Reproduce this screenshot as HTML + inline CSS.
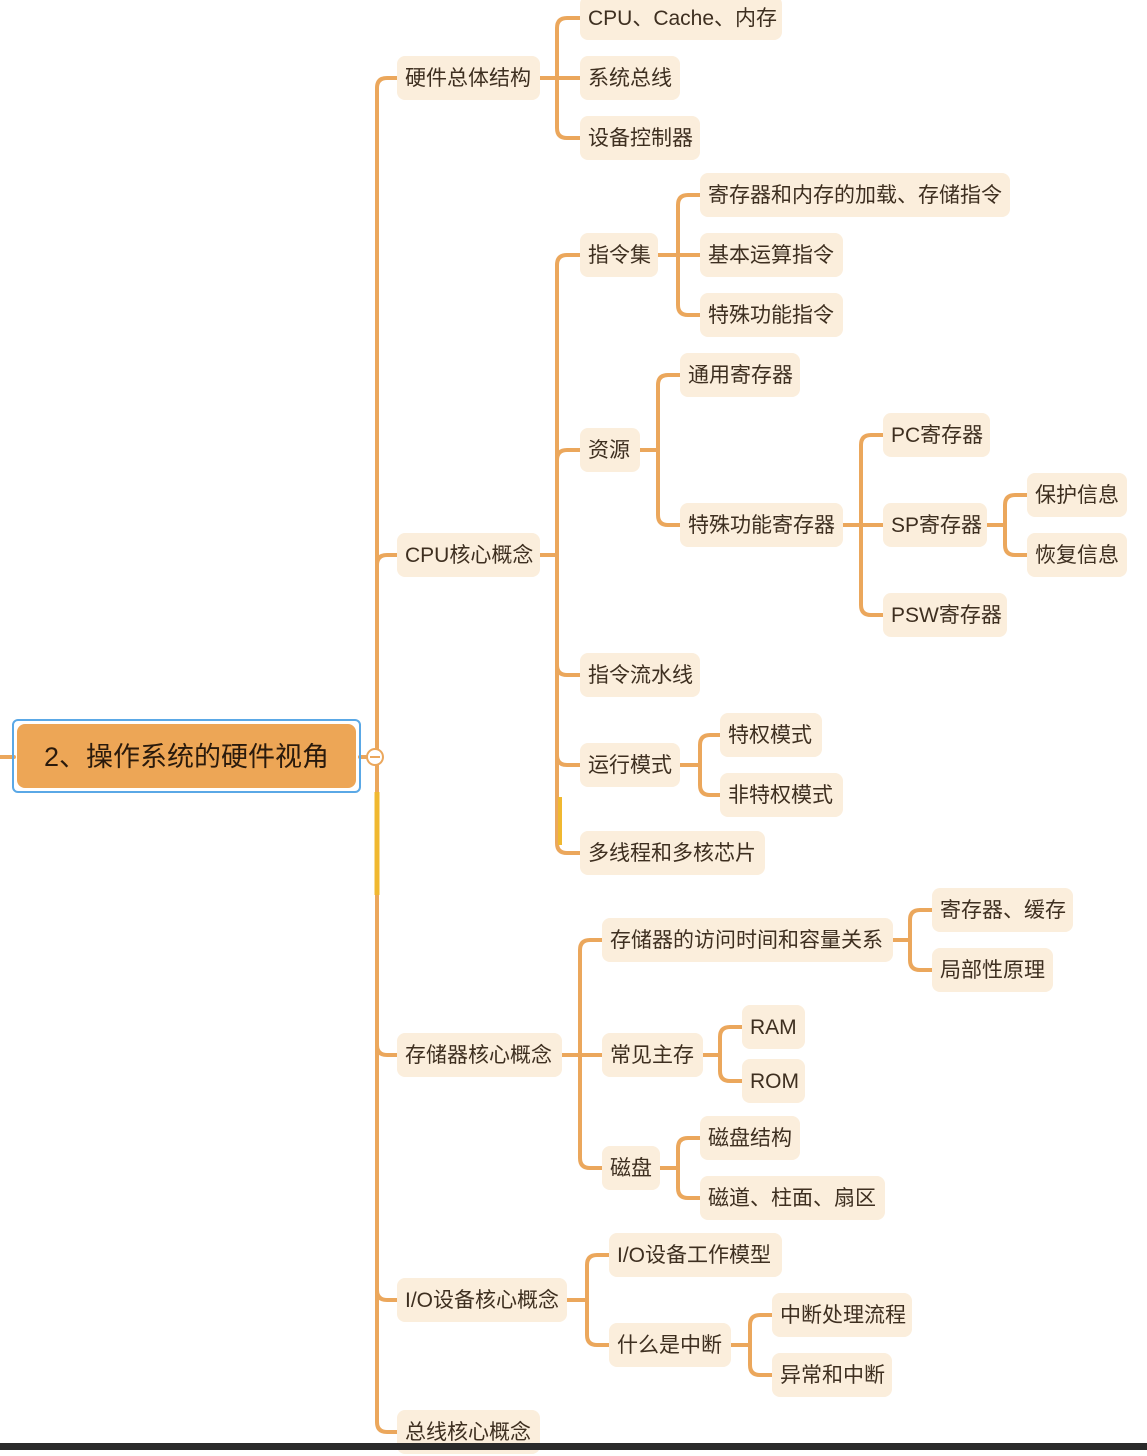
<!DOCTYPE html>
<html><head><meta charset="utf-8"><style>
body{margin:0;width:1147px;height:1450px;background:#fff;position:relative;overflow:hidden;font-family:"Liberation Sans","Noto Sans CJK SC",sans-serif;}
.n{position:absolute;height:44px;line-height:46px;background:#fbeedc;border-radius:8px;color:#3e2f20;font-size:21px;padding-left:8px;box-sizing:border-box;white-space:nowrap;}
svg{position:absolute;left:0;top:0}
</style></head><body>
<svg width="1147" height="1450"><g fill="none" stroke="#eba75c" stroke-width="4" stroke-linecap="round">
<path d="M0 757H14"/>
<path d="M360 757H377M377 757V88Q377 78 387 78H397M377 757V565Q377 555 387 555H397M377 757V1045Q377 1055 387 1055H397M377 757V1290Q377 1300 387 1300H397M377 757V1422Q377 1432 387 1432H397"/>
<path d="M540 78H557M557 78V28Q557 18 567 18H580M557 78H580M557 78V128Q557 138 567 138H580"/>
<path d="M540 555H557M557 555V265Q557 255 567 255H580M557 555V460Q557 450 567 450H580M557 555V665Q557 675 567 675H580M557 555V755Q557 765 567 765H580M557 555V843Q557 853 567 853H580"/>
<path d="M658 255H678M678 255V205Q678 195 688 195H700M678 255H700M678 255V305Q678 315 688 315H700"/>
<path d="M640 450H658M658 450V385Q658 375 668 375H680M658 450V515Q658 525 668 525H680"/>
<path d="M843 525H861M861 525V445Q861 435 871 435H883M861 525H883M861 525V605Q861 615 871 615H883"/>
<path d="M987 525H1005M1005 525V505Q1005 495 1015 495H1027M1005 525V545Q1005 555 1015 555H1027"/>
<path d="M680 765H700M700 765V745Q700 735 710 735H720M700 765V785Q700 795 710 795H720"/>
<path d="M562 1055H580M580 1055V950Q580 940 590 940H602M580 1055H602M580 1055V1158Q580 1168 590 1168H602"/>
<path d="M893 940H910M910 940V920Q910 910 920 910H932M910 940V960Q910 970 920 970H932"/>
<path d="M703 1055H720M720 1055V1037Q720 1027 730 1027H742M720 1055V1071Q720 1081 730 1081H742"/>
<path d="M660 1168H678M678 1168V1148Q678 1138 688 1138H700M678 1168V1188Q678 1198 688 1198H700"/>
<path d="M567 1300H587M587 1300V1265Q587 1255 597 1255H609M587 1300V1335Q587 1345 597 1345H609"/>
<path d="M731 1345H750M750 1345V1325Q750 1315 760 1315H772M750 1345V1365Q750 1375 760 1375H772"/>
</g>
<line x1="377" y1="792" x2="377" y2="895" stroke="#f0b830" stroke-width="5"/>
<line x1="560" y1="797" x2="560" y2="845" stroke="#f0b830" stroke-width="4"/>
<circle cx="375" cy="757" r="8" fill="#fff" stroke="#eba75c" stroke-width="2"/>
<line x1="370" y1="757" x2="380" y2="757" stroke="#eba75c" stroke-width="2"/>
</svg>
<div style="position:absolute;left:12px;top:719px;width:349px;height:74px;border:2px solid #5aa8e6;border-radius:6px;box-sizing:border-box;"></div>
<div style="position:absolute;left:17px;top:724px;width:339px;height:64px;background:#eda656;border-radius:8px;font-size:27px;line-height:66px;text-align:center;color:#2a1a0c;">2、操作系统的硬件视角</div>
<div class="n" style="left:397px;top:56px;width:143px">硬件总体结构</div>
<div class="n" style="left:397px;top:533px;width:143px">CPU核心概念</div>
<div class="n" style="left:397px;top:1033px;width:165px">存储器核心概念</div>
<div class="n" style="left:397px;top:1278px;width:170px">I/O设备核心概念</div>
<div class="n" style="left:397px;top:1410px;width:143px">总线核心概念</div>
<div class="n" style="left:580px;top:-4px;width:202px">CPU、Cache、内存</div>
<div class="n" style="left:580px;top:56px;width:100px">系统总线</div>
<div class="n" style="left:580px;top:116px;width:120px">设备控制器</div>
<div class="n" style="left:580px;top:233px;width:78px">指令集</div>
<div class="n" style="left:580px;top:428px;width:60px">资源</div>
<div class="n" style="left:580px;top:653px;width:120px">指令流水线</div>
<div class="n" style="left:580px;top:743px;width:100px">运行模式</div>
<div class="n" style="left:580px;top:831px;width:185px">多线程和多核芯片</div>
<div class="n" style="left:700px;top:173px;width:310px">寄存器和内存的加载、存储指令</div>
<div class="n" style="left:700px;top:233px;width:143px">基本运算指令</div>
<div class="n" style="left:700px;top:293px;width:143px">特殊功能指令</div>
<div class="n" style="left:680px;top:353px;width:120px">通用寄存器</div>
<div class="n" style="left:680px;top:503px;width:163px">特殊功能寄存器</div>
<div class="n" style="left:883px;top:413px;width:107px">PC寄存器</div>
<div class="n" style="left:883px;top:503px;width:104px">SP寄存器</div>
<div class="n" style="left:883px;top:593px;width:124px">PSW寄存器</div>
<div class="n" style="left:1027px;top:473px;width:100px">保护信息</div>
<div class="n" style="left:1027px;top:533px;width:100px">恢复信息</div>
<div class="n" style="left:720px;top:713px;width:102px">特权模式</div>
<div class="n" style="left:720px;top:773px;width:123px">非特权模式</div>
<div class="n" style="left:602px;top:918px;width:291px">存储器的访问时间和容量关系</div>
<div class="n" style="left:602px;top:1033px;width:101px">常见主存</div>
<div class="n" style="left:602px;top:1146px;width:58px">磁盘</div>
<div class="n" style="left:932px;top:888px;width:141px">寄存器、缓存</div>
<div class="n" style="left:932px;top:948px;width:121px">局部性原理</div>
<div class="n" style="left:742px;top:1005px;width:63px">RAM</div>
<div class="n" style="left:742px;top:1059px;width:63px">ROM</div>
<div class="n" style="left:700px;top:1116px;width:100px">磁盘结构</div>
<div class="n" style="left:700px;top:1176px;width:185px">磁道、柱面、扇区</div>
<div class="n" style="left:609px;top:1233px;width:173px">I/O设备工作模型</div>
<div class="n" style="left:609px;top:1323px;width:122px">什么是中断</div>
<div class="n" style="left:772px;top:1293px;width:140px">中断处理流程</div>
<div class="n" style="left:772px;top:1353px;width:120px">异常和中断</div>
<div style="position:absolute;left:0;top:1443px;width:1147px;height:7px;background:#2a2a2a"></div>
</body></html>
